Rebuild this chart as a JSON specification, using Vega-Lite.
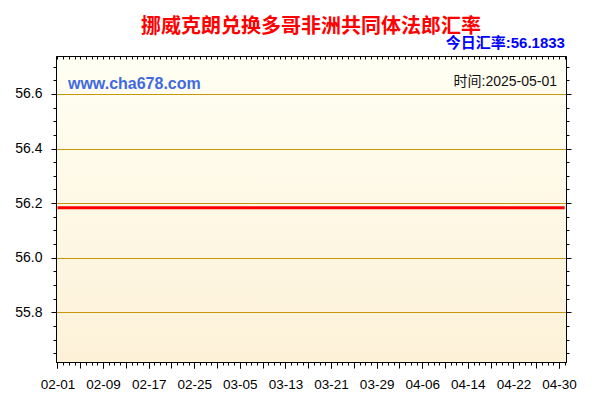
{
  "$schema": "https://vega.github.io/schema/vega-lite/v6.json",
  "width": 510,
  "height": 306,
  "autosize": {"type": "none"},
  "padding": {"left": 56, "top": 56, "right": 34, "bottom": 38},
  "background": "#ffffff",
  "title": {
    "text": "挪威克朗兑换多哥非洲共同体法郎汇率",
    "anchor": "middle",
    "frame": "group",
    "font": "Noto Sans CJK SC",
    "fontSize": 20,
    "fontWeight": "bold",
    "color": "#ff0000",
    "baseline": "middle",
    "offset": -11
  },
  "config": {
    "view": {
      "stroke": "#000000",
      "strokeWidth": 1,
      "fill": {
        "gradient": "linear",
        "x1": 0, "y1": 0, "x2": 0, "y2": 1,
        "stops": [
          {"offset": 0, "color": "#fffff3"},
          {"offset": 1, "color": "#fdf1d8"}
        ]
      }
    },
    "axis": {
      "labelFont": "Liberation Sans",
      "labelFontSize": 13.5,
      "labelColor": "#000000",
      "tickColor": "#000000",
      "domainColor": "#000000",
      "title": null
    }
  },
  "data": {
    "values": [
      {"date": "2025-02-01", "rate": 56.1833}, {"date": "2025-02-02", "rate": 56.1833}, {"date": "2025-02-03", "rate": 56.1833}, {"date": "2025-02-04", "rate": 56.1833}, {"date": "2025-02-05", "rate": 56.1833}, {"date": "2025-02-06", "rate": 56.1833}, {"date": "2025-02-07", "rate": 56.1833}, {"date": "2025-02-08", "rate": 56.1833}, {"date": "2025-02-09", "rate": 56.1833}, {"date": "2025-02-10", "rate": 56.1833},
      {"date": "2025-02-11", "rate": 56.1833}, {"date": "2025-02-12", "rate": 56.1833}, {"date": "2025-02-13", "rate": 56.1833}, {"date": "2025-02-14", "rate": 56.1833}, {"date": "2025-02-15", "rate": 56.1833}, {"date": "2025-02-16", "rate": 56.1833}, {"date": "2025-02-17", "rate": 56.1833}, {"date": "2025-02-18", "rate": 56.1833}, {"date": "2025-02-19", "rate": 56.1833}, {"date": "2025-02-20", "rate": 56.1833},
      {"date": "2025-02-21", "rate": 56.1833}, {"date": "2025-02-22", "rate": 56.1833}, {"date": "2025-02-23", "rate": 56.1833}, {"date": "2025-02-24", "rate": 56.1833}, {"date": "2025-02-25", "rate": 56.1833}, {"date": "2025-02-26", "rate": 56.1833}, {"date": "2025-02-27", "rate": 56.1833}, {"date": "2025-02-28", "rate": 56.1833},
      {"date": "2025-03-01", "rate": 56.1833}, {"date": "2025-03-02", "rate": 56.1833}, {"date": "2025-03-03", "rate": 56.1833}, {"date": "2025-03-04", "rate": 56.1833}, {"date": "2025-03-05", "rate": 56.1833}, {"date": "2025-03-06", "rate": 56.1833}, {"date": "2025-03-07", "rate": 56.1833}, {"date": "2025-03-08", "rate": 56.1833}, {"date": "2025-03-09", "rate": 56.1833}, {"date": "2025-03-10", "rate": 56.1833},
      {"date": "2025-03-11", "rate": 56.1833}, {"date": "2025-03-12", "rate": 56.1833}, {"date": "2025-03-13", "rate": 56.1833}, {"date": "2025-03-14", "rate": 56.1833}, {"date": "2025-03-15", "rate": 56.1833}, {"date": "2025-03-16", "rate": 56.1833}, {"date": "2025-03-17", "rate": 56.1833}, {"date": "2025-03-18", "rate": 56.1833}, {"date": "2025-03-19", "rate": 56.1833}, {"date": "2025-03-20", "rate": 56.1833},
      {"date": "2025-03-21", "rate": 56.1833}, {"date": "2025-03-22", "rate": 56.1833}, {"date": "2025-03-23", "rate": 56.1833}, {"date": "2025-03-24", "rate": 56.1833}, {"date": "2025-03-25", "rate": 56.1833}, {"date": "2025-03-26", "rate": 56.1833}, {"date": "2025-03-27", "rate": 56.1833}, {"date": "2025-03-28", "rate": 56.1833}, {"date": "2025-03-29", "rate": 56.1833}, {"date": "2025-03-30", "rate": 56.1833},
      {"date": "2025-03-31", "rate": 56.1833},
      {"date": "2025-04-01", "rate": 56.1833}, {"date": "2025-04-02", "rate": 56.1833}, {"date": "2025-04-03", "rate": 56.1833}, {"date": "2025-04-04", "rate": 56.1833}, {"date": "2025-04-05", "rate": 56.1833}, {"date": "2025-04-06", "rate": 56.1833}, {"date": "2025-04-07", "rate": 56.1833}, {"date": "2025-04-08", "rate": 56.1833}, {"date": "2025-04-09", "rate": 56.1833}, {"date": "2025-04-10", "rate": 56.1833},
      {"date": "2025-04-11", "rate": 56.1833}, {"date": "2025-04-12", "rate": 56.1833}, {"date": "2025-04-13", "rate": 56.1833}, {"date": "2025-04-14", "rate": 56.1833}, {"date": "2025-04-15", "rate": 56.1833}, {"date": "2025-04-16", "rate": 56.1833}, {"date": "2025-04-17", "rate": 56.1833}, {"date": "2025-04-18", "rate": 56.1833}, {"date": "2025-04-19", "rate": 56.1833}, {"date": "2025-04-20", "rate": 56.1833},
      {"date": "2025-04-21", "rate": 56.1833}, {"date": "2025-04-22", "rate": 56.1833}, {"date": "2025-04-23", "rate": 56.1833}, {"date": "2025-04-24", "rate": 56.1833}, {"date": "2025-04-25", "rate": 56.1833}, {"date": "2025-04-26", "rate": 56.1833}, {"date": "2025-04-27", "rate": 56.1833}, {"date": "2025-04-28", "rate": 56.1833}, {"date": "2025-04-29", "rate": 56.1833}, {"date": "2025-04-30", "rate": 56.1833},
      {"date": "2025-05-01", "rate": 56.1833}
    ]
  },
  "layer": [
    {
      "mark": {"type": "line", "color": "#ff0000", "strokeWidth": 3},
      "encoding": {
        "x": {
          "field": "date", "type": "temporal",
          "scale": {
            "type": "utc",
            "domain": [
              {"year": 2025, "month": 1, "date": 31, "hours": 17, "minutes": 41, "utc": true},
              {"year": 2025, "month": 5, "date": 1, "hours": 5, "minutes": 30, "utc": true}
            ]
          },
          "axis": {
            "orient": "bottom",
            "values": [
              {"year": 2025, "month": 2, "date": 1, "utc": true},
              {"year": 2025, "month": 2, "date": 9, "utc": true},
              {"year": 2025, "month": 2, "date": 17, "utc": true},
              {"year": 2025, "month": 2, "date": 25, "utc": true},
              {"year": 2025, "month": 3, "date": 5, "utc": true},
              {"year": 2025, "month": 3, "date": 13, "utc": true},
              {"year": 2025, "month": 3, "date": 21, "utc": true},
              {"year": 2025, "month": 3, "date": 29, "utc": true},
              {"year": 2025, "month": 4, "date": 6, "utc": true},
              {"year": 2025, "month": 4, "date": 14, "utc": true},
              {"year": 2025, "month": 4, "date": 22, "utc": true},
              {"year": 2025, "month": 4, "date": 30, "utc": true}
            ],
            "labelExpr": "utcFormat(datum.value, '%m-%d')",
            "tickSize": 6,
            "labelPadding": 9,
            "labelOverlap": false,
            "labelFlush": false,
            "grid": false
          }
        },
        "y": {
          "field": "rate", "type": "quantitative",
          "scale": {"domain": [55.618, 56.739], "nice": false, "zero": false},
          "axis": {
            "orient": "left",
            "values": [55.8, 56.0, 56.2, 56.4, 56.6],
            "format": ".1f",
            "labelFontSize": 14,
            "tickSize": 5,
            "labelPadding": 9,
            "grid": true,
            "gridColor": "#c8960c",
            "gridWidth": 1,
            "gridOpacity": 1
          }
        }
      }
    },
    {
      "mark": {"type": "line", "opacity": 0},
      "encoding": {
        "x": {
          "field": "date", "type": "temporal",
          "axis": {
            "orient": "bottom",
            "values": [
              {"year": 2025, "month": 2, "date": 1, "utc": true},
              {"year": 2025, "month": 2, "date": 5, "utc": true},
              {"year": 2025, "month": 2, "date": 9, "utc": true},
              {"year": 2025, "month": 2, "date": 13, "utc": true},
              {"year": 2025, "month": 2, "date": 17, "utc": true},
              {"year": 2025, "month": 2, "date": 21, "utc": true},
              {"year": 2025, "month": 2, "date": 25, "utc": true},
              {"year": 2025, "month": 3, "date": 1, "utc": true},
              {"year": 2025, "month": 3, "date": 5, "utc": true},
              {"year": 2025, "month": 3, "date": 9, "utc": true},
              {"year": 2025, "month": 3, "date": 13, "utc": true},
              {"year": 2025, "month": 3, "date": 17, "utc": true},
              {"year": 2025, "month": 3, "date": 21, "utc": true},
              {"year": 2025, "month": 3, "date": 25, "utc": true},
              {"year": 2025, "month": 3, "date": 29, "utc": true},
              {"year": 2025, "month": 4, "date": 2, "utc": true},
              {"year": 2025, "month": 4, "date": 6, "utc": true},
              {"year": 2025, "month": 4, "date": 10, "utc": true},
              {"year": 2025, "month": 4, "date": 14, "utc": true},
              {"year": 2025, "month": 4, "date": 18, "utc": true},
              {"year": 2025, "month": 4, "date": 22, "utc": true},
              {"year": 2025, "month": 4, "date": 26, "utc": true},
              {"year": 2025, "month": 4, "date": 30, "utc": true}
            ],
            "labels": false,
            "domain": false,
            "tickSize": 6,
            "grid": false
          }
        },
        "y": {
          "field": "rate", "type": "quantitative",
          "axis": {
            "orient": "left",
            "values": [55.65, 55.7, 55.75, 55.8, 55.85, 55.9, 55.95, 56.0, 56.05, 56.1, 56.15, 56.2, 56.25, 56.3, 56.35, 56.4, 56.45, 56.5, 56.55, 56.6, 56.65, 56.7],
            "labels": false,
            "domain": false,
            "tickSize": 3,
            "grid": false
          }
        }
      }
    },
    {
      "mark": {"type": "line", "opacity": 0},
      "encoding": {
        "x": {
          "field": "date", "type": "temporal",
          "axis": {
            "orient": "bottom",
            "tickCount": {"interval": "day", "step": 1},
            "labels": false,
            "domain": false,
            "tickSize": 3,
            "grid": false
          }
        },
        "y": {
          "field": "rate", "type": "quantitative",
          "axis": {
            "orient": "right",
            "values": [55.65, 55.7, 55.75, 55.8, 55.85, 55.9, 55.95, 56.0, 56.05, 56.1, 56.15, 56.2, 56.25, 56.3, 56.35, 56.4, 56.45, 56.5, 56.55, 56.6, 56.65, 56.7],
            "labels": false,
            "domain": true,
            "tickSize": 3,
            "grid": false
          }
        }
      }
    },
    {
      "mark": {"type": "line", "opacity": 0},
      "encoding": {
        "x": {
          "field": "date", "type": "temporal",
          "axis": {
            "orient": "top",
            "tickCount": {"interval": "day", "step": 1},
            "labels": false,
            "domain": false,
            "offset": -3,
            "tickSize": 3,
            "grid": false
          }
        },
        "y": {
          "field": "rate", "type": "quantitative",
          "axis": {
            "orient": "right",
            "values": [55.8, 56.0, 56.2, 56.4, 56.6],
            "labels": false,
            "domain": false,
            "tickSize": 5,
            "grid": false
          }
        }
      }
    },
    {
      "data": {"values": [{"label": "www.cha678.com"}]},
      "mark": {"type": "text", "align": "left", "baseline": "middle", "font": "Liberation Sans", "fontSize": 16, "fontWeight": "bold", "color": "#4169e1"},
      "encoding": {
        "x": {"datum": {"year": 2025, "month": 2, "date": 2, "hours": 20, "utc": true}, "type": "temporal", "axis": null},
        "y": {"datum": 56.636, "type": "quantitative", "axis": null},
        "text": {"field": "label"}
      }
    },
    {
      "data": {"values": [{"label": "时间:2025-05-01"}]},
      "mark": {"type": "text", "align": "right", "baseline": "middle", "font": "Liberation Sans, Noto Sans CJK SC", "fontSize": 14, "color": "#111111"},
      "encoding": {
        "x": {"datum": {"year": 2025, "month": 4, "date": 29, "hours": 16, "utc": true}, "type": "temporal", "axis": null},
        "y": {"datum": 56.644, "type": "quantitative", "axis": null},
        "text": {"field": "label"}
      }
    },
    {
      "data": {"values": [{"label": "今日汇率:56.1833"}]},
      "mark": {"type": "text", "align": "right", "baseline": "middle", "font": "Liberation Sans, Noto Sans CJK SC", "fontSize": 15, "fontWeight": "bold", "color": "#0000ff"},
      "encoding": {
        "x": {"datum": {"year": 2025, "month": 5, "date": 1, "hours": 1, "utc": true}, "type": "temporal", "axis": null},
        "y": {"datum": 56.788, "type": "quantitative", "axis": null},
        "text": {"field": "label"}
      }
    }
  ],
  "resolve": {"axis": {"x": "independent", "y": "independent"}}
}
